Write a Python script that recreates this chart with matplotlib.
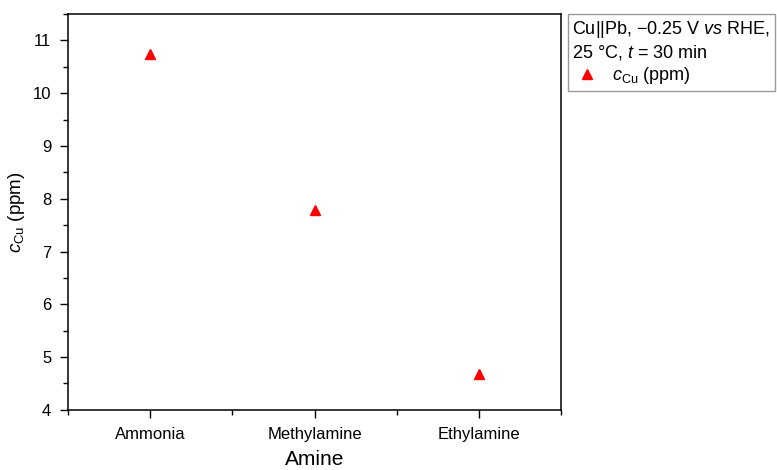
import numpy as np
import matplotlib
matplotlib.use("Agg")
import matplotlib.pyplot as plt
from matplotlib.ticker import MultipleLocator

plt.rcParams['font.family'] = ['Liberation Sans', 'DejaVu Sans']
plt.rcParams['mathtext.fontset'] = 'custom'
plt.rcParams['mathtext.rm'] = 'Liberation Sans'
plt.rcParams['mathtext.it'] = 'Liberation Sans:italic'
plt.rcParams['mathtext.bf'] = 'Liberation Sans:bold'

amines = ["Ammonia", "Methylamine", "Ethylamine"]
c_cu = [10.75, 7.78, 4.68]

fig = plt.figure(figsize=(7.77, 4.70), dpi=100)
ax = fig.add_axes([0.0875, 0.128, 0.635, 0.842])

x = np.arange(len(amines))
ax.plot(x, c_cu, linestyle='none', marker='^', color='#ff0000', markersize=7.5,
        label=r'$c_{\mathrm{Cu}}$ (ppm)')

ax.set_xlim(-0.5, 2.5)
ax.set_ylim(4, 11.5)
ax.set_xticks(x)
ax.set_xticklabels(amines)
ax.xaxis.set_minor_locator(MultipleLocator(1, offset=0.5))
ax.yaxis.set_major_locator(MultipleLocator(1))
ax.yaxis.set_minor_locator(MultipleLocator(0.5))

ax.tick_params(which='major', direction='out', length=6, width=1, labelsize=12, pad=6)
ax.tick_params(which='minor', direction='out', length=3.5, width=1)
for s in ax.spines.values():
    s.set_linewidth(1.1)

ax.set_xlabel('Amine', fontsize=15, labelpad=6)
ax.set_ylabel(r'$c_{\mathrm{Cu}}$ (ppm)', fontsize=13.5, labelpad=4)

leg = ax.legend(loc='upper left', bbox_to_anchor=(1.013, 1.0),
                title='Cu||Pb, \u22120.25 V $\\it{vs}$ RHE,\n25 \u00b0C, $\\it{t}$ = 30 min',
                fontsize=13, title_fontsize=13, frameon=True, fancybox=False,
                borderaxespad=0, borderpad=0.25, handletextpad=0.6,
                handlelength=1.6, alignment='left', labelspacing=0.2)
leg.get_frame().set_edgecolor('#808080')
leg.get_frame().set_linewidth(1.0)

fig.savefig('out.png', dpi=100)
